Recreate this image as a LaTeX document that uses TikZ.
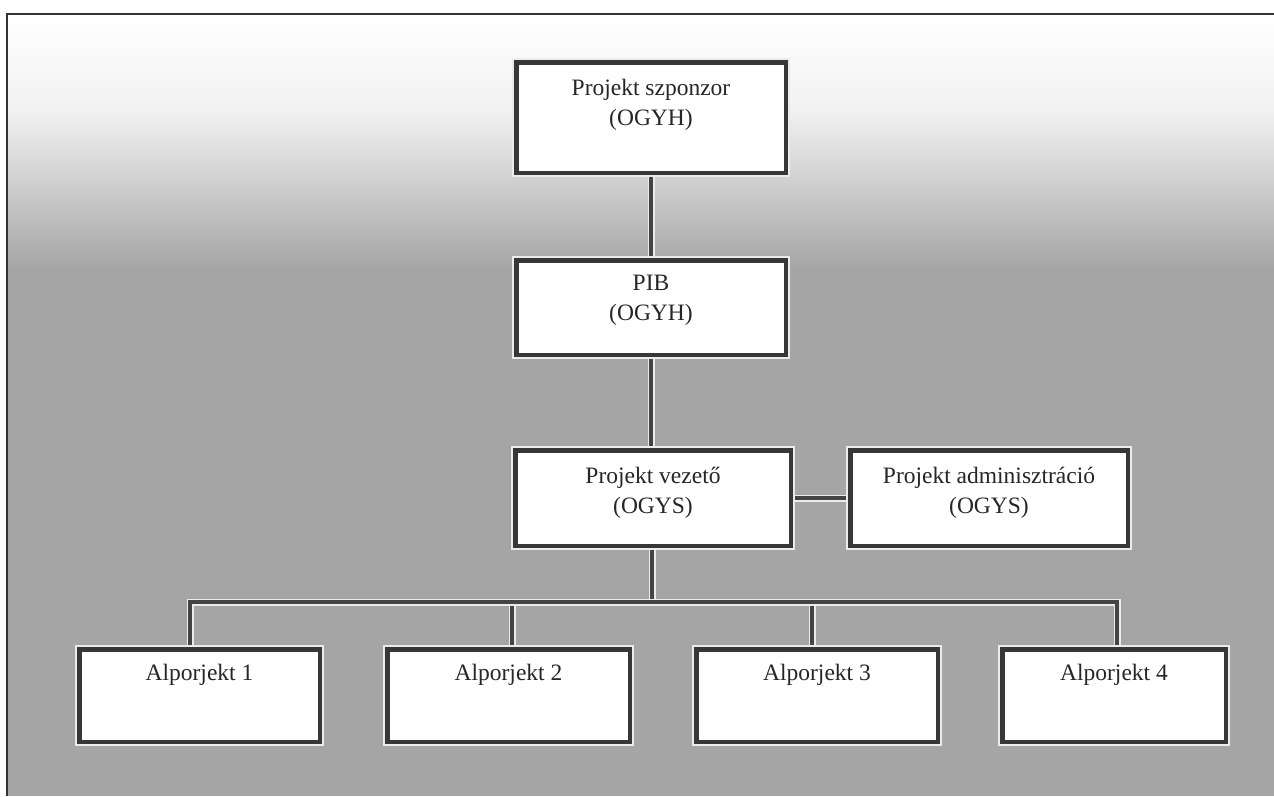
\documentclass[tikz,border=0pt]{standalone}
\usepackage{fontspec}
\setmainfont{Liberation Serif}
\definecolor{bggray}{RGB}{165,165,165}
\definecolor{edgegray}{RGB}{55,55,55}
\definecolor{linegray}{RGB}{68,68,68}
\tikzset{
  orgbox/.style={draw=edgegray, line width=4.5pt, fill=white, inner sep=0pt,
    preaction={draw=white!92!black, line width=8pt}},
  boxtext/.style={anchor=north, inner sep=0pt, align=center,
    font=\fontsize{23.5}{30}\selectfont, text=black!85},
  conn/.style={draw=linegray, line width=4.5pt, preaction={draw=white!92!black, line width=7pt}},
  frameline/.style={draw=black!80, line width=1.2pt}
}
\begin{document}
\begin{tikzpicture}[x=1pt,y=-1pt]
\useasboundingbox (0,0) rectangle (1274,796);
% background
\fill[white] (0,0) rectangle (1274,796);
\fill[bggray] (7,14) rectangle (1274,796);
\shade[top color=white, bottom color=white!85!bggray] (7,14) rectangle (1274,110);
\shade[top color=white!85!bggray, bottom color=bggray] (7,110) rectangle (1274,270);
\draw[frameline] (7,796) -- (7,14) -- (1274,14);

% boxes
\path
  node[orgbox, minimum width=269.5pt, minimum height=110.5pt] (top) at (651,117.5) {}
  node[orgbox, minimum width=269.5pt, minimum height=94.5pt] (pib) at (651,307.5) {}
  node[orgbox, minimum width=275.5pt, minimum height=95.5pt] (vez) at (653,498) {}
  node[orgbox, minimum width=277.5pt, minimum height=95.5pt] (adm) at (989,498) {}
  node[orgbox, minimum width=240.5pt, minimum height=92.5pt] (alp1) at (199.5,695.5) {}
  node[orgbox, minimum width=242.5pt, minimum height=92.5pt] (alp2) at (508.5,695.5) {}
  node[orgbox, minimum width=241.5pt, minimum height=92.5pt] (alp3) at (817,695.5) {}
  node[orgbox, minimum width=223.5pt, minimum height=92.5pt] (alp4) at (1114,695.5) {};

% connectors
\coordinate (trunk) at (652,602);
\coordinate (b1) at (190,602);
\coordinate (b2) at (512,602);
\coordinate (b3) at (812,602);
\coordinate (b4) at (1117,602);
\path[conn] (top.south) -- (pib.north);
\path[conn] (pib.south) -- (pib.south |- vez.north);
\path[conn] (vez.east) -- (adm.west);
\path[conn] (trunk |- vez.south) -- (trunk);
\path[conn] (b2) -- (b2 |- alp2.north);
\path[conn] (b3) -- (b3 |- alp3.north);
\path[conn] (b1 |- alp1.north) -- (b1) -- (b4) -- (b4 |- alp4.north);

% redraw boxes over the connector ends
\path
  node[orgbox, minimum width=269.5pt, minimum height=110.5pt] at (651,117.5) {}
  node[orgbox, minimum width=269.5pt, minimum height=94.5pt] at (651,307.5) {}
  node[orgbox, minimum width=275.5pt, minimum height=95.5pt] at (653,498) {}
  node[orgbox, minimum width=277.5pt, minimum height=95.5pt] at (989,498) {}
  node[orgbox, minimum width=240.5pt, minimum height=92.5pt] at (199.5,695.5) {}
  node[orgbox, minimum width=242.5pt, minimum height=92.5pt] at (508.5,695.5) {}
  node[orgbox, minimum width=241.5pt, minimum height=92.5pt] at (817,695.5) {}
  node[orgbox, minimum width=223.5pt, minimum height=92.5pt] at (1114,695.5) {};

% texts
\node[boxtext] (ttop) at ([yshift=-19pt]top.north) {Projekt szponzor\\(OGYH)};
\node[boxtext] (tpib) at ([yshift=-17pt]pib.north) {PIB\\(OGYH)};
\node[boxtext] (tvez) at ([yshift=-19pt]vez.north) {Projekt vezető\\(OGYS)};
\node[boxtext] (tadm) at ([yshift=-19pt]adm.north) {Projekt adminisztráció\\(OGYS)};
\node[boxtext] (talp1) at ([yshift=-17pt]alp1.north) {Alporjekt 1};
\node[boxtext] (talp2) at ([yshift=-17pt]alp2.north) {Alporjekt 2};
\node[boxtext] (talp3) at ([yshift=-17pt]alp3.north) {Alporjekt 3};
\node[boxtext] (talp4) at ([yshift=-17pt]alp4.north) {Alporjekt 4};
\end{tikzpicture}
\end{document}
